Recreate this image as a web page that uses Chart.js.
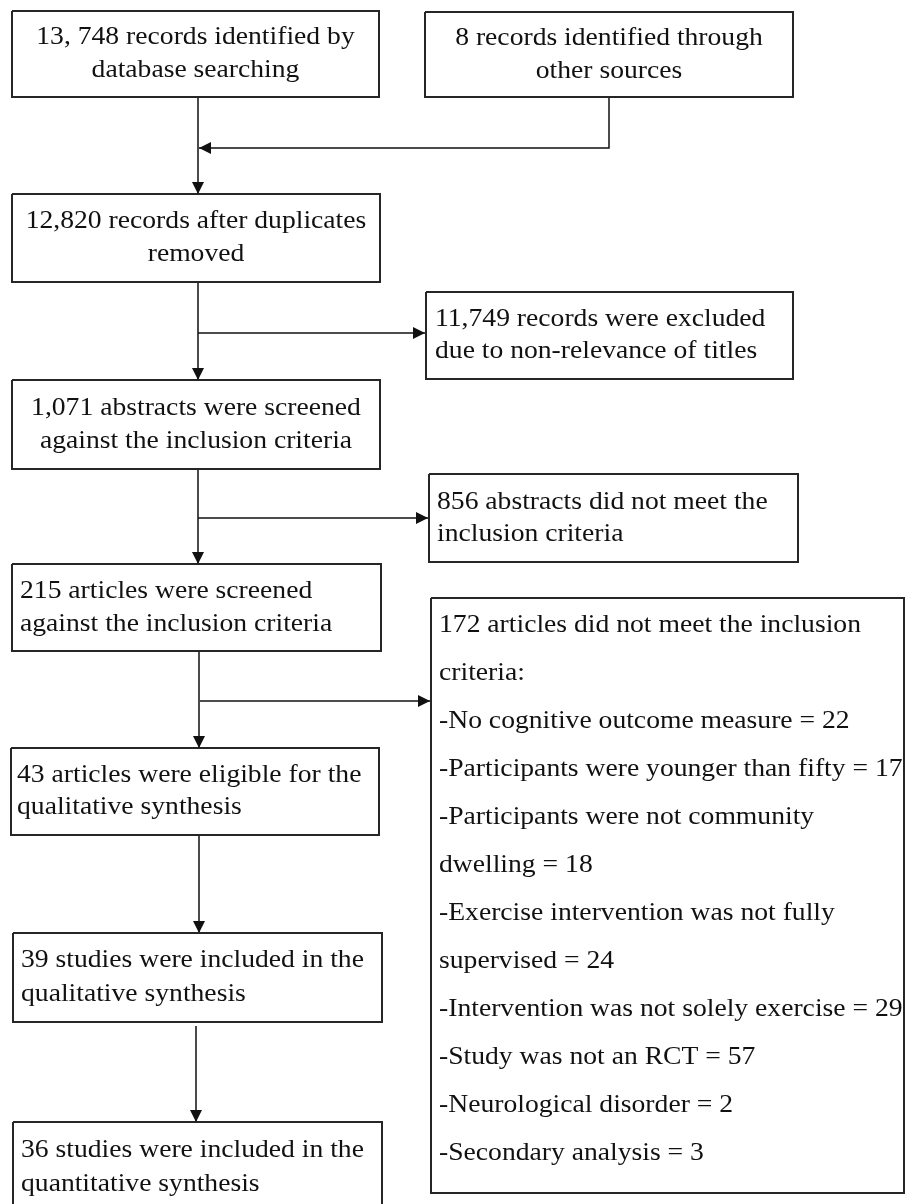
<!DOCTYPE html>
<html>
<head>
<meta charset="utf-8">
<title>PRISMA flow diagram</title>
<script src="https://cdn.jsdelivr.net/npm/chart.js@4/dist/chart.umd.min.js"></script>
<style>
  html, body { margin: 0; padding: 0; background: #fff; }
  #flow { display: block; }
</style>
</head>
<body>
<canvas id="flow" width="906" height="1204"></canvas>
<script>
// box texts (one entry per box, one string per line)
const boxTexts = [
  ['13, 748 records identified by', 'database searching'],
  ['8 records identified through', 'other sources'],
  ['12,820 records after duplicates', 'removed'],
  ['11,749 records were excluded', 'due to non-relevance of titles'],
  ['1,071 abstracts were screened', 'against the inclusion criteria'],
  ['856 abstracts did not meet the', 'inclusion criteria'],
  ['215 articles were screened', 'against the inclusion criteria'],
  ['172 articles did not meet the inclusion', 'criteria:',
   '-No cognitive outcome measure = 22',
   '-Participants were younger than fifty = 17',
   '-Participants were not community', 'dwelling = 18',
   '-Exercise intervention was not fully', 'supervised = 24',
   '-Intervention was not solely exercise = 29',
   '-Study was not an RCT = 57',
   '-Neurological disorder = 2',
   '-Secondary analysis = 3'],
  ['43 articles were eligible for the', 'qualitative synthesis'],
  ['39 studies were included in the', 'qualitative synthesis'],
  ['36 studies were included in the', 'quantitative synthesis']
];

// box layout in diagram units (x 0-906, y 0-1204 from top)
const boxLeft   = [12, 425, 12, 426, 12, 429, 12, 431, 11, 13, 13];
const boxTop    = [11, 12, 194, 292, 380, 474, 564, 598, 748, 933, 1122];
const boxRight  = [379, 793, 380, 793, 380, 798, 381, 904, 379, 382, 382];
const boxBottom = [97, 97, 282, 379, 469, 562, 651, 1193, 835, 1022, 1216];
const textAlign = ['center', 'center', 'center', 'left', 'center', 'left', 'left', 'left', 'left', 'left', 'left'];
const lineGap   = [33, 33, 33, 32, 33, 32, 33, 48, 32, 34, 34];
const firstLine = [null, null, null, null, null, null, null, 625, null, null, 1150];

// connectors: list of points, arrowhead at last point
const connectors = [
  [[198, 97], [198, 194]],
  [[609, 97], [609, 148], [199, 148]],
  [[198, 282], [198, 380]],
  [[198, 333], [425, 333]],
  [[198, 469], [198, 564]],
  [[198, 518], [428, 518]],
  [[199, 651], [199, 748]],
  [[200, 701], [430, 701]],
  [[199, 835], [199, 933]],
  [[196, 1026], [196, 1122]]
];

const datasets = [];
boxLeft.forEach((x0, i) => {
  const x1 = boxRight[i], y0 = boxTop[i], y1 = boxBottom[i];
  datasets.push({
    data: [{x: x0, y: y0}, {x: x1, y: y0}, {x: x1, y: y1}, {x: x0, y: y1}, {x: x0, y: y0}],
    borderColor: '#262626', borderWidth: 2, pointRadius: 0, showLine: true, fill: false
  });
});
connectors.forEach(pts => {
  datasets.push({
    data: pts.map(p => ({x: p[0], y: p[1]})),
    borderColor: '#111', borderWidth: 1.5, pointRadius: 0, showLine: true, fill: false
  });
});

// arrowheads and box texts
const flowPlugin = {
  id: 'flowPlugin',
  afterDatasetsDraw(chart) {
    const ctx = chart.ctx;
    const sx = chart.scales.x, sy = chart.scales.y;
    ctx.save();
    ctx.fillStyle = '#111';
    connectors.forEach(pts => {
      const a = pts[pts.length - 2], b = pts[pts.length - 1];
      const ax = sx.getPixelForValue(a[0]), ay = sy.getPixelForValue(a[1]);
      const bx = sx.getPixelForValue(b[0]), by = sy.getPixelForValue(b[1]);
      const ang = Math.atan2(by - ay, bx - ax);
      const len = 12, half = 6;
      ctx.beginPath();
      ctx.moveTo(bx, by);
      ctx.lineTo(bx - len * Math.cos(ang) + half * Math.sin(ang), by - len * Math.sin(ang) - half * Math.cos(ang));
      ctx.lineTo(bx - len * Math.cos(ang) - half * Math.sin(ang), by - len * Math.sin(ang) + half * Math.cos(ang));
      ctx.closePath();
      ctx.fill();
    });

    // text is slightly wider than tall in the source, so stretch it a little
    ctx.font = '25px "Liberation Serif", "Times New Roman", serif';
    ctx.textBaseline = 'middle';
    ctx.fillStyle = '#111';
    const stretch = 1.105;
    boxTexts.forEach((lines, i) => {
      const x0 = sx.getPixelForValue(boxLeft[i]), x1 = sx.getPixelForValue(boxRight[i]);
      const y0 = sy.getPixelForValue(boxTop[i]);
      const y1 = sy.getPixelForValue(Math.min(boxBottom[i], 1204));
      const gap = lineGap[i];
      let start;
      if (firstLine[i] !== null) start = sy.getPixelForValue(firstLine[i]);
      else start = (y0 + y1) / 2 - gap * (lines.length - 1) / 2;
      ctx.textAlign = textAlign[i];
      const tx = textAlign[i] === 'center' ? (x0 + x1) / 2 : x0 + (i === 3 ? 9 : i === 8 ? 6 : 8);
      lines.forEach((ln, k) => {
        ctx.save();
        ctx.translate(tx, start + k * gap);
        ctx.scale(stretch, 1);
        ctx.fillText(ln, 0, 0);
        ctx.restore();
      });
    });
    ctx.restore();
  }
};

new Chart(document.getElementById('flow'), {
  type: 'scatter',
  data: { datasets: datasets },
  options: {
    responsive: false,
    animation: false,
    devicePixelRatio: 1,
    layout: { padding: 0 },
    plugins: { legend: { display: false }, tooltip: { enabled: false } },
    scales: {
      x: { type: 'linear', min: 0, max: 906, display: false },
      y: { type: 'linear', min: 0, max: 1204, reverse: true, display: false }
    }
  },
  plugins: [flowPlugin]
});
</script>
</body>
</html>
